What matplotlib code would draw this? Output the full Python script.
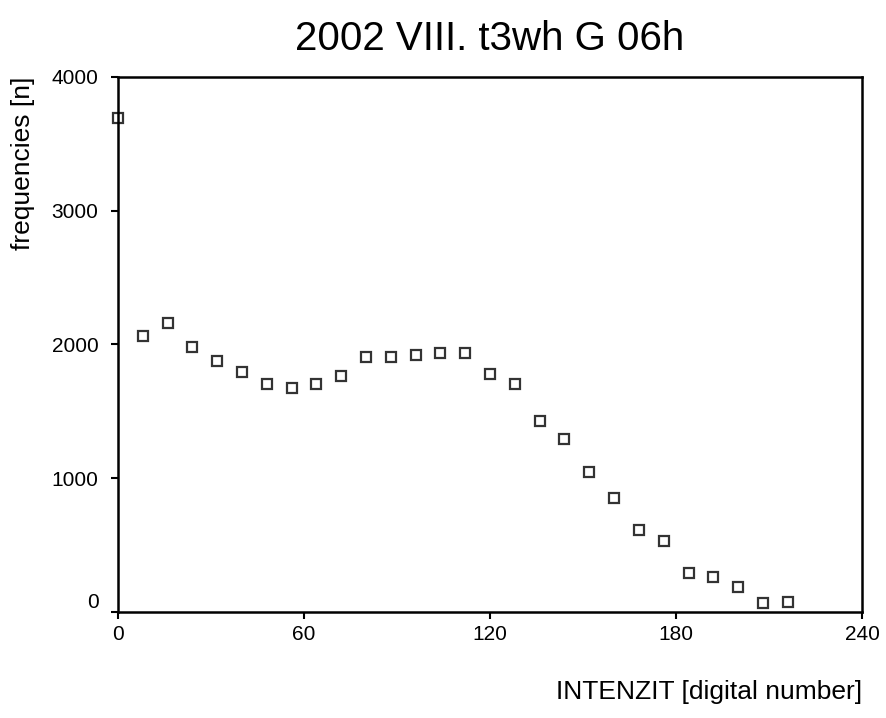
import numpy as np
import matplotlib
matplotlib.use('Agg')
import matplotlib.pyplot as plt
from matplotlib import font_manager

# intensity classes (digital number) and their frequencies
intensity = [0, 8, 16, 24, 32, 40, 48, 56, 64, 72, 80, 88, 96, 104,
             112, 120, 128, 136, 144, 152, 160, 168, 176, 184, 192, 200, 208, 216]
frequency = [3690, 2060, 2160, 1985, 1880, 1795, 1705, 1675, 1705, 1765, 1910, 1910, 1925, 1940,
             1940, 1780, 1705, 1425, 1295, 1045, 850, 615, 530, 295, 265, 190, 65, 75]

x_ticks = [0, 60, 120, 180, 240]
y_ticks = [0, 1000, 2000, 3000, 4000]

names = {f.name for f in font_manager.fontManager.ttflist}
fam = 'Liberation Sans Narrow' if 'Liberation Sans Narrow' in names else 'Liberation Sans'
plt.rcParams['font.family'] = [fam, 'DejaVu Sans']

fig = plt.figure(figsize=(8.87, 7.18), dpi=100)
ax = fig.add_axes([0.133, 0.1476, 0.839, 0.7452])

ax.plot(intensity, frequency, linestyle='none', marker='s', markersize=7.5,
        markerfacecolor='white', markeredgecolor='#333333', markeredgewidth=1.6,
        clip_on=False)

ax.set_xlim(0, 240)
ax.set_ylim(0, 4000)
ax.set_xticks(x_ticks)
ax.set_yticks(y_ticks)
ax.tick_params(direction='out', length=5, width=1.5, labelsize=15)
ax.tick_params(axis='y', pad=9)
ax.tick_params(axis='x', pad=4)
for s in ax.spines.values():
    s.set_linewidth(1.8)

# the "0" label sits a bit above the axis line
ax.get_yticklabels()[0].set_verticalalignment('bottom')

fig.text(0.5525, 0.945, '2002 VIII. t3wh G 06h', ha='center', va='center', fontsize=29)
fig.text(0.972, 0.036, 'INTENZIT [digital number]', ha='right', va='center', fontsize=19)
fig.text(0.026, 0.8928, 'frequencies [n]', ha='center', va='top', rotation=90, fontsize=19)

fig.savefig('out.png', dpi=100)
